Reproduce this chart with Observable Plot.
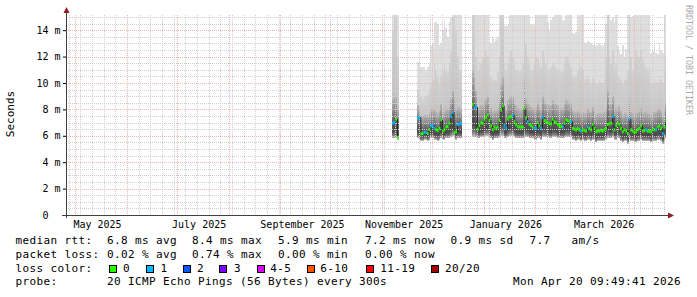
<!DOCTYPE html>
<html><head><meta charset="utf-8">
<script src="https://cdn.jsdelivr.net/npm/d3@7"></script>
<script src="https://cdn.jsdelivr.net/npm/@observablehq/plot@0.6"></script>
<style>
body{margin:0;background:#fff;}
#wrap{position:relative;width:697px;height:297px;font-family:"DejaVu Sans Mono",monospace;overflow:hidden;}
#legend{position:absolute;left:0;top:232px;width:697px;height:65px;font-size:11px;letter-spacing:0.38px;color:#000;}
#legend span.t{position:absolute;white-space:pre;line-height:14px;}
#legend span.b{position:absolute;width:6px;height:6px;border:1px solid #000;}
</style></head><body><div id="wrap"><div id="chart"></div><div id="legend"></div></div>
<script>
// ---------- data ----------
const rangeStart = "2025-04-25T09:49:41Z";
const rangeEnd = "2026-04-20T09:49:41Z";
const firstDay = "2025-11-07T00:00:00Z";   // one value per day from here

const medianMs = [
  7.0,7.05,7.3,5.9,
  null,null,null,null,null,null,null,null,null,null,null,
  7.4,7.4,6.2,6.2,6.3,6.3,6.2,6.5,6.8,6.8,6.6,6.5,6.45,6.6,7.25,6.4,6.5,6.7,6.75,7.0,7.5,7.8,6.3,6.35,6.9,6.95,6.95,
  null,null,null,null,null,null,
  8.4,8.15,8.2,6.55,6.8,7.0,7.0,7.3,7.45,7.6,
  7.2,6.8,6.5,6.7,6.6,6.7,7.2,8.0,8.3,6.8,
  6.6,7.3,7.45,7.5,7.6,7.1,6.9,6.75,6.7,6.7,
  6.7,8.1,7.4,7.1,6.9,6.8,6.7,6.6,6.6,7.05,
  6.8,6.6,7.45,7.2,7.1,7.05,6.95,6.95,7.3,7.1,
  7.05,6.9,6.8,6.75,6.7,7.0,7.25,7.2,7.15,7.1,
  6.6,6.55,6.5,6.6,6.5,6.4,6.5,6.45,6.4,6.7,
  6.6,6.5,6.9,6.6,6.35,6.4,6.4,6.45,6.4,6.5,
  6.6,6.9,6.95,7.0,7.5,6.5,6.8,7.0,6.9,6.6,
  6.35,6.5,6.4,6.2,7.3,6.5,6.4,6.3,6.35,6.5,
  6.6,6.8,6.4,6.45,6.5,6.4,6.4,6.35,6.5,6.5,
  6.5,6.7,6.8,6.6,6.2,6.7,7.2
];
const lostPings = [
  1,1,0,0,
  0,0,0,0,0,0,0,0,0,0,0,
  1,1,0,0,1,1,0,0,1,1,1,0,0,0,0,0,0,0,0,0,1,1,0,0,1,1,1,
  0,0,0,0,0,0,
  0,1,1,0,0,0,0,0,0,0,
  0,0,0,0,0,0,0,0,0,1,
  1,0,0,0,1,0,0,0,0,0,
  0,0,0,1,0,0,0,1,1,0,
  0,1,1,0,0,0,0,0,0,0,
  0,0,0,0,1,0,0,0,0,1,
  0,0,0,0,0,1,0,0,0,1,
  0,0,0,0,0,0,0,0,0,0,
  0,0,0,0,1,0,0,0,0,0,
  0,0,0,0,1,0,0,0,0,0,
  0,0,0,0,1,0,0,0,0,0,
  1,0,0,0,1,0,0
];
const smokeHi = [
  16,16,16,16,
  null,null,null,null,null,null,null,null,null,null,null,
  11.6,11.6,11.2,11.2,11.2,11.0,11.2,11.5,12.8,13.0,14.6,14.6,14.5,12.9,13.0,14.0,14.8,14.2,13.5,14.6,15.0,16,16,16,16,16,16,
  null,null,null,null,null,null,
  16,16,16,16,16,16,16,16,16,16,
  13.2,13.0,13.4,13.1,13.3,13.5,16,16,16,14.3,
  14.3,14.4,16,16,16,15.5,15.4,16,16,16,
  16,16,16,16,16,14.4,14.5,14.3,16,16,
  16,16,16,16,16,14.6,14.0,14.8,15.0,16,
  16,16,16,16,14.8,14.7,16,16,16,16,
  13.8,13.7,13.9,16,16,16,16,13.1,13.0,13.2,
  13.1,13.0,12.9,13.0,12.8,12.9,13.0,12.9,12.8,13.0,
  14.5,16,15.5,14.8,15.0,14.6,15.2,12.8,12.5,12.2,
  12.9,12.0,12.6,16,16,15.0,15.1,16,16,16,
  16,16,16,16,16,16,16,12.3,12.4,13.0,
  12.3,12.2,13.0,12.5,12.3,16,16
];
const smokeP90 = [
  14,16,15,12,
  null,null,null,null,null,null,null,null,null,null,null,
  9.5,9.2,9.0,8.8,8.9,9.0,9.2,9.5,10.0,10.2,11.5,11.0,10.5,10.0,10.5,11.0,11.5,11.0,10.8,11.5,12.5,15,16,14,12,11,11,
  null,null,null,null,null,null,
  16,16,12,11,11.5,11.5,12,12,12.5,12,
  10.5,10.5,10.2,10.4,10.2,10.8,12,16,16,11.5,
  11,11.5,12,12.5,12,11.5,11,11,10.8,11,
  11.5,16,13,12,11.5,11,11,11.5,12,11.8,
  11.5,11.2,12.5,12,11.5,11,11,11.2,11.5,11.5,
  11.2,11,11,10.8,11,11.5,12,12,11.5,11.2,
  10.5,10.4,10.5,11,11.5,11.2,11,10.2,10.3,10.5,
  10.2,10,10.4,10.2,10,10,10.2,10.1,10,10.2,
  12,16,12,11.5,12.5,11,11.5,10.5,10.4,10.2,
  10,10.2,10.3,11,16,12,11,12,12.5,12,
  12,12.5,11.8,11.5,11.2,11,11.2,10,10,10.3,
  10.1,10,10.5,10.2,10,11,12
];
const smokeQ3 = [
  8.8,9.2,9.0,8.0,
  null,null,null,null,null,null,null,null,null,null,null,
  8.3,8.2,7.6,7.5,7.6,7.6,7.5,7.7,8.0,8.0,8.0,7.8,7.7,7.9,8.4,7.8,7.8,8.0,8.0,8.2,8.8,9.5,9.0,8.0,8.2,8.2,8.0,
  null,null,null,null,null,null,
  11,10.5,9.5,8.0,8.2,8.3,8.3,8.6,8.8,9.0,
  8.5,8.1,7.8,8.0,7.9,8.0,8.6,10,10.5,8.2,
  8.0,8.7,8.9,9.0,9.0,8.5,8.3,8.1,8.0,8.0,
  8.1,10.5,8.8,8.5,8.3,8.2,8.1,8.0,8.2,8.5,
  8.2,8.0,9.0,8.6,8.5,8.4,8.3,8.3,8.7,8.5,
  8.4,8.3,8.2,8.1,8.1,8.4,8.7,8.6,8.5,8.5,
  7.9,7.8,7.8,7.9,7.8,7.7,7.8,7.7,7.7,8.0,
  7.9,7.8,8.2,7.9,7.6,7.7,7.7,7.7,7.7,7.8,
  8.0,9.5,8.3,8.4,9.0,7.8,8.1,8.3,8.2,7.9,
  7.6,7.8,7.7,7.6,9.0,7.8,7.7,7.6,7.7,7.8,
  7.9,8.1,7.7,7.8,7.8,7.7,7.7,7.6,7.8,7.8,
  7.8,8.0,8.1,7.9,7.5,8.0,8.5
];
const smokeLo = [
  5.8,5.8,5.8,5.7,
  null,null,null,null,null,null,null,null,null,null,null,
  5.8,5.7,5.6,5.6,5.7,5.7,5.6,5.7,5.8,5.8,5.7,5.7,5.6,5.7,5.8,5.7,5.7,5.8,5.8,5.8,5.9,6.0,5.8,5.7,5.8,5.8,5.8,
  null,null,null,null,null,null,
  5.9,6.0,5.9,5.8,5.8,5.9,5.9,5.9,6.0,6.0,
  5.9,5.8,5.7,5.8,5.8,5.8,5.9,6.0,6.0,5.8,
  5.8,5.9,6.0,6.0,6.0,5.9,5.8,5.8,5.8,5.8,
  5.8,5.9,5.9,5.9,5.8,5.8,5.8,5.7,5.7,5.8,
  5.8,5.7,5.9,5.9,5.9,5.9,5.8,5.8,5.9,5.9,
  5.9,5.8,5.8,5.8,5.8,5.8,5.9,5.9,5.9,5.9,
  5.7,5.7,5.6,5.7,5.7,5.6,5.7,5.6,5.6,5.7,
  5.7,5.6,5.7,5.7,5.5,5.6,5.6,5.6,5.6,5.6,
  5.7,5.8,5.8,5.8,5.9,5.7,5.7,5.8,5.8,5.6,
  5.5,5.6,5.6,5.4,5.7,5.6,5.6,5.5,5.5,5.6,
  5.6,5.7,5.6,5.6,5.6,5.6,5.6,5.5,5.6,5.6,
  5.6,5.7,5.7,5.6,5.4,5.6,5.8
];

const yTickValues = [0, 2, 4, 6, 8, 10, 12, 14];
const xLabelMonths = ["2025-05", "2025-07", "2025-09", "2025-11", "2026-01", "2026-03"];
const lossLabels = ["0", "1", "2", "3", "4-5", "6-10", "11-19", "20/20"];
const lossColors = ["#26ff00", "#00b8ff", "#0059ff", "#7e00ff", "#dd00ff", "#ff5500", "#ff0000", "#a10000"];
const medianStats = ["6.8 ms avg", "8.4 ms max", "5.9 ms min", "7.2 ms now", "0.9 ms sd", "7.7", "am/s"];
const lossStats = ["0.02 % avg", "0.74 % max", "0.00 % min", "0.00 % now"];
const probeText = "20 ICMP Echo Pings (56 Bytes) every 300s";
const stampText = "Mon Apr 20 09:49:41 2026";

// ---------- build ----------
const day0 = new Date(firstDay);
const lossClass = n => n <= 3 ? n : n <= 5 ? 4 : n <= 10 ? 5 : n <= 19 ? 6 : 7;
const allRows = medianMs.map((m, i) => ({
  start: d3.utcDay.offset(day0, i), end: d3.utcDay.offset(day0, i + 1),
  median: m, loss: lostPings[i], lo: smokeLo[i], q3: smokeQ3[i], p90: smokeP90[i], hi: smokeHi[i]
}));
const rows = allRows.filter(r => r.median != null);
const xDomain = [new Date(rangeStart), new Date(rangeEnd)];
const weeks = d3.utcSunday.range(xDomain[0], xDomain[1]);
const months = d3.utcMonth.range(xDomain[0], xDomain[1]);
const yMinor = d3.range(0.5, 15.1, 0.5).filter(v => v % 2 !== 0);
const yMajor = yTickValues.filter(v => v > 0);
const xLabels = xLabelMonths.map(m => d3.utcDay.offset(new Date(m + "-01T00:00:00Z"), 13));

const gridGray = "#d0d0d0", gridRed = "#ecb4b4";
const plot = Plot.plot({
  width: 697, height: 232,
  marginLeft: 66, marginRight: 31, marginTop: 15, marginBottom: 17,
  style: {fontFamily: '"DejaVu Sans Mono", monospace', fontSize: "10px", color: "#000", background: "#fff"},
  x: {type: "utc", domain: xDomain},
  y: {domain: [0, 15.15]},
  color: {type: "identity"},
  marks: [
    Plot.rect(rows, {x1: "start", x2: "end", y1: "lo", y2: "hi", fill: "#dedede", clip: true, shapeRendering: "crispEdges"}),
    Plot.rect(rows, {x1: "start", x2: "end", y1: "lo", y2: "p90", fill: "url(#smokeMid)", clip: true, shapeRendering: "crispEdges"}),
    Plot.rect(rows, {x1: "start", x2: "end", y1: "lo", y2: "q3", fill: "url(#smokeCore)", clip: true, shapeRendering: "crispEdges"}),
    Plot.ruleX(weeks, {stroke: gridGray, strokeDasharray: "1,1", shapeRendering: "crispEdges"}),
    Plot.ruleY(yMinor, {stroke: gridGray, strokeDasharray: "1,1", shapeRendering: "crispEdges"}),
    Plot.ruleX(months, {stroke: gridRed, strokeDasharray: "1,1", shapeRendering: "crispEdges"}),
    Plot.ruleY(yMajor, {stroke: gridRed, strokeDasharray: "1,1", shapeRendering: "crispEdges"}),
    Plot.line(allRows, {x: "start", y: "median", curve: "step-after", stroke: "#2a2a2a", strokeWidth: 1, clip: true}),
    Plot.ruleY(rows, {y: "median", x1: "start", x2: "end", stroke: d => lossColors[lossClass(d.loss)], strokeWidth: 3, clip: true}),
    Plot.axisY({ticks: yTickValues, tickFormat: d => d === 0 ? "0  " : `${d} m`, tickSize: 3, tickPadding: 3, label: null}),
    Plot.axisX({ticks: xLabels, tickFormat: d3.utcFormat("%B %Y"), tickSize: 0, tickPadding: 5, label: null})
  ]
});
document.getElementById("chart").appendChild(plot);

// decorations (gradients, axis lines, arrows, labels)
const svg = d3.select(plot);
const defs = svg.insert("defs", ":first-child");
function grad(id, stops) {
  const g = defs.append("linearGradient").attr("id", id).attr("x1", 0).attr("y1", 0).attr("x2", 0).attr("y2", 1);
  stops.forEach(([o, c]) => g.append("stop").attr("offset", o).attr("stop-color", c));
}
grad("smokeMid", [[0, "#d2d2d2"], [0.5, "#c6c6c6"], [1, "#b8b8b8"]]);
grad("smokeCore", [[0, "#b8b8b8"], [0.3, "#8e8e8e"], [0.58, "#606060"], [0.8, "#484848"], [0.92, "#7a7a7a"], [1, "#c0c0c0"]]);
const xs = plot.scale("x"), ys = plot.scale("y");
const [xl, xr] = xs.range, [yb, yt] = ys.range;
const deco = svg.append("g").attr("text-anchor", "start");
deco.append("line").attr("x1", xl - 4).attr("x2", xr + 2).attr("y1", yb + 0.5).attr("y2", yb + 0.5).attr("stroke", "#404040");
deco.append("line").attr("x1", xl + 0.5).attr("x2", xl + 0.5).attr("y1", yb + 3).attr("y2", yt - 2).attr("stroke", "#404040");
deco.append("path").attr("d", `M${xr + 2},${yb - 2.5}L${xr + 8},${yb + 0.5}L${xr + 2},${yb + 3.5}Z`).attr("fill", "#8f1f1f");
deco.append("path").attr("d", `M${xl - 2.5},${yt - 2}L${xl + 0.5},${yt - 8}L${xl + 3.5},${yt - 2}Z`).attr("fill", "#8f1f1f");
deco.append("text").text("Seconds").attr("transform", `translate(14,${(yb + yt) / 2 - 1}) rotate(-90)`)
  .attr("text-anchor", "middle").attr("font-size", 11).attr("fill", "#000");
deco.append("text").text("RRDTOOL / TOBI OETIKER").attr("transform", "translate(685.5,5) rotate(90)")
  .attr("text-anchor", "start").attr("font-size", 8.3).attr("fill", "#aaa");

// legend lines under the chart
const lg = document.getElementById("legend");
function txt(s, left, top) { const e = document.createElement("span"); e.className = "t"; e.textContent = s; e.style.left = left + "px"; e.style.top = top + "px"; lg.appendChild(e); }
function box(c, left, top) { const e = document.createElement("span"); e.className = "b"; e.style.background = c; e.style.left = left + "px"; e.style.top = top + "px"; lg.appendChild(e); }
const colX = [107, 192, 278, 365, 450.5, 529.5, 571.5];
const rowTop = [2.2, 15.5, 29.8, 43.2];
txt("median rtt:", 15.5, rowTop[0]);
medianStats.forEach((s, i) => txt(s, colX[i], rowTop[0]));
txt("packet loss:", 15.5, rowTop[1]);
lossStats.forEach((s, i) => txt(s, colX[i], rowTop[1]));
txt("loss color:", 15.5, rowTop[2]);
const boxX = [108.7, 145.7, 182.7, 219.3, 256.7, 306.7, 365.7, 430.7];
const labX = [123, 160.5, 197, 234, 270.3, 320.3, 380.3, 445];
lossLabels.forEach((s, i) => { box(lossColors[i], boxX[i], 33); txt(s, labX[i], rowTop[2]); });
txt("probe:", 15.5, rowTop[3]);
txt(probeText, 107, rowTop[3]);
txt(stampText, 513, rowTop[3]);
</script></body></html>
